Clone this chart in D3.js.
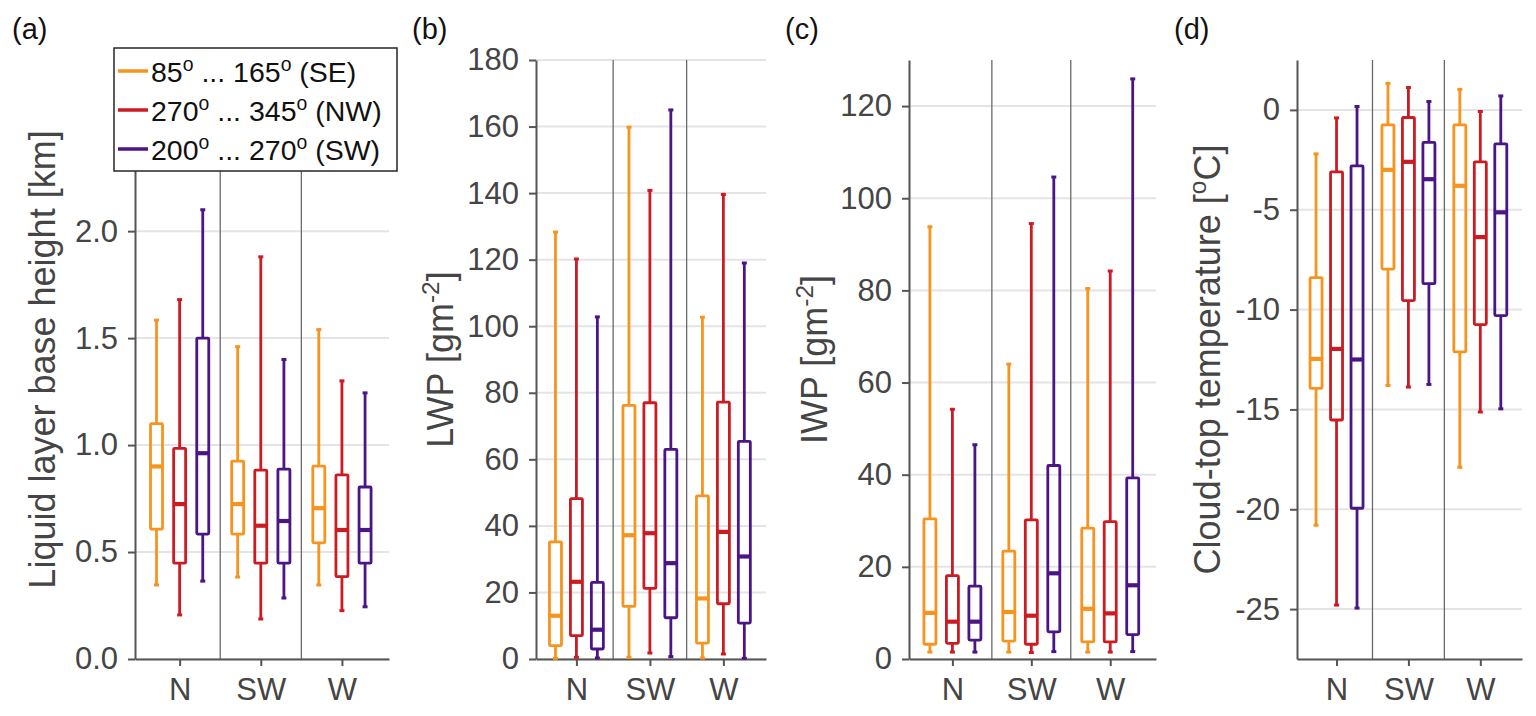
<!DOCTYPE html>
<html><head><meta charset="utf-8">
<script src="https://cdn.jsdelivr.net/npm/d3@7"></script>
<style>
body{margin:0;background:#fff}
svg{display:block}
text{font-family:"Liberation Sans",Arial,Helvetica,sans-serif}
</style>
</head><body>
<svg id="chart" width="1536" height="716"></svg>
<script>
// ---------- data ----------
const categories = ["N", "SW", "W"];
const seriesNames = ["SE", "NW", "SW"];
const seriesColors = ["#F7941E", "#CC1B22", "#4B1585"];
const legendLabels = [
  [{t:"85"},{t:"o",sup:true},{t:" ... 165"},{t:"o",sup:true},{t:" (SE)"}],
  [{t:"270"},{t:"o",sup:true},{t:" ... 345"},{t:"o",sup:true},{t:" (NW)"}],
  [{t:"200"},{t:"o",sup:true},{t:" ... 270"},{t:"o",sup:true},{t:" (SW)"}]
];
// each: [series][category] -> [lower whisker, q1, median, q3, upper whisker]
const baseHeight = [
  [[0.346,0.607,0.900,1.100,1.584],[0.383,0.584,0.724,0.925,1.460],[0.346,0.543,0.705,0.902,1.540]],
  [[0.206,0.448,0.724,0.985,1.680],[0.187,0.448,0.623,0.883,1.880],[0.226,0.385,0.603,0.861,1.300]],
  [[0.364,0.584,0.962,1.500,2.100],[0.285,0.448,0.645,0.888,1.400],[0.244,0.448,0.603,0.804,1.244]]
];
const lwp = [
  [[0.2,4.0,13.0,35.2,128.3],[0.5,15.8,37.2,76.2,159.8],[0.3,4.8,18.2,49.0,102.7]],
  [[0.5,7.0,23.2,48.2,120.2],[1.8,21.2,37.8,77.0,140.8],[1.5,16.6,38.2,77.2,139.6]],
  [[0.3,3.0,8.8,23.0,102.8],[0.7,12.4,28.8,63.0,165.0],[0.2,10.8,30.8,65.4,119.0]]
];
const iwp = [
  [[1.5,3.2,10.0,30.4,93.8],[1.5,3.9,10.2,23.4,64.0],[1.5,3.7,10.9,28.4,80.4]],
  [[1.5,3.4,8.1,18.1,54.2],[1.4,3.2,9.4,30.2,94.5],[1.5,3.7,9.9,29.8,84.2]],
  [[1.5,4.1,8.1,15.8,46.5],[1.6,5.9,18.6,42.0,104.6],[1.6,5.3,16.0,39.3,125.9]]
];
const cloudTopTemp = [
  [[-20.8,-13.95,-12.47,-8.40,-2.20],[-13.80,-7.97,-3.00,-0.75,1.33],[-17.90,-12.12,-3.80,-0.75,1.03]],
  [[-24.8,-15.53,-11.97,-3.10,-0.40],[-13.88,-9.55,-2.60,-0.38,1.12],[-15.13,-10.75,-6.37,-2.60,-0.08]],
  [[-24.95,-19.95,-12.50,-2.80,0.17],[-13.75,-8.70,-3.47,-1.63,0.42],[-14.97,-10.30,-5.13,-1.70,0.70]]
];
const ticksA = [0, 0.5, 1, 1.5, 2];
const ticksB = [0, 20, 40, 60, 80, 100, 120, 140, 160, 180];
const ticksC = [0, 20, 40, 60, 80, 100, 120];
const ticksD = [-25, -20, -15, -10, -5, 0];

// ---------- layout ----------
const svg = d3.select("#chart");
const TOP = 60, BOTTOM = 659;
const TICKFONT = 31, LABELFONT = 36;
const axisColor = "#555", textColor = "#454545";

function richText(sel, parts, size) {
  let prevSup = false;
  parts.forEach(p => {
    const ts = sel.append("tspan").text(p.t);
    if (p.sup) { ts.attr("font-size", size * 0.68).attr("dy", -size * 0.4); prevSup = true; }
    else if (prevSup) { ts.attr("dy", size * 0.4); prevSup = false; }
  });
}

const panels = [
  {tag:"(a)", tagX:12, data:baseHeight, x0:135, x1:389, domain:[0,2.8], ticks:ticksA, fmt:d3.format(".1f"),
   label:[{t:"Liquid layer base height [km]"}], labelX:55},
  {tag:"(b)", tagX:412, data:lwp, x0:536, x1:766, domain:[0,180], ticks:ticksB, fmt:d3.format("d"),
   label:[{t:"LWP [gm"},{t:"-2",sup:true},{t:"]"}], labelX:453},
  {tag:"(c)", tagX:785, data:iwp, x0:909, x1:1156, domain:[0,130], ticks:ticksC, fmt:d3.format("d"),
   label:[{t:"IWP [gm"},{t:"-2",sup:true},{t:"]"}], labelX:827},
  {tag:"(d)", tagX:1174, data:cloudTopTemp, x0:1297, x1:1522, domain:[-27.5,2.5], ticks:ticksD, fmt:d => String(d),
   label:[{t:"Cloud-top temperature ["},{t:"o",sup:true},{t:"C]"}], labelX:1220}
];

panels.forEach(p => {
  const g = svg.append("g");
  const x = d3.scaleLinear().domain([0.45, 3.58]).range([p.x0, p.x1]);
  const y = d3.scaleLinear().domain(p.domain).range([BOTTOM, TOP]);

  // grid lines
  g.append("g").selectAll("line").data(p.ticks).join("line")
    .attr("x1", p.x0).attr("x2", p.x1)
    .attr("y1", d => y(d)).attr("y2", d => y(d))
    .attr("stroke", "#e4e4e4").attr("stroke-width", 2);

  // category dividers
  g.append("g").selectAll("line").data([1.5, 2.5]).join("line")
    .attr("x1", d => x(d)).attr("x2", d => x(d))
    .attr("y1", TOP).attr("y2", BOTTOM)
    .attr("stroke", "#6a6a6a").attr("stroke-width", 1.3);

  // axes
  const ya = g.append("g").attr("transform", `translate(${p.x0},0)`)
    .call(d3.axisLeft(y).tickValues(p.ticks).tickFormat(p.fmt).tickSize(7).tickSizeOuter(0).tickPadding(10));
  const xa = g.append("g").attr("transform", `translate(0,${BOTTOM})`)
    .call(d3.axisBottom(x).tickValues([1, 2, 3]).tickFormat(d => categories[d - 1]).tickSize(7).tickSizeOuter(0).tickPadding(12));
  [ya, xa].forEach(a => {
    a.attr("font-family", null).attr("font-size", null);
    a.select(".domain").attr("stroke", axisColor).attr("stroke-width", 2);
    a.selectAll(".tick line").attr("stroke", axisColor).attr("stroke-width", 2);
    a.selectAll(".tick text").attr("fill", textColor).attr("font-size", TICKFONT);
  });

  // boxes
  const offsets = [-0.285, 0, 0.285];
  p.data.forEach((series, si) => {
    const col = seriesColors[si];
    series.forEach((v, ci) => {
      const cx = x(ci + 1 + offsets[si]);
      const [lo, q1, med, q3, hi] = v;
      const bg = g.append("g").attr("stroke", col).attr("fill", "none");
      bg.append("line").attr("x1", cx).attr("x2", cx).attr("y1", y(hi)).attr("y2", y(q3)).attr("stroke-width", 2.8);
      bg.append("line").attr("x1", cx).attr("x2", cx).attr("y1", y(q1)).attr("y2", y(lo)).attr("stroke-width", 2.8);
      [lo, hi].forEach(w => bg.append("line").attr("x1", cx - 2.5).attr("x2", cx + 2.5)
        .attr("y1", y(w)).attr("y2", y(w)).attr("stroke-width", 3));
      bg.append("rect").attr("x", cx - 6).attr("width", 12)
        .attr("y", y(q3)).attr("height", y(q1) - y(q3)).attr("stroke-width", 2.8).attr("rx", 1);
      bg.append("line").attr("x1", cx - 6).attr("x2", cx + 6)
        .attr("y1", y(med)).attr("y2", y(med)).attr("stroke-width", 4.2);
    });
  });

  // y label
  const lab = g.append("text")
    .attr("transform", `translate(${p.labelX},${(TOP + BOTTOM) / 2}) rotate(-90)`)
    .attr("text-anchor", "middle").attr("fill", textColor).attr("font-size", LABELFONT);
  richText(lab, p.label, LABELFONT);

  // panel tag
  svg.append("text").attr("x", p.tagX).attr("y", 39).attr("font-size", 29).attr("fill", "#111").text(p.tag);
});

// legend
const lg = svg.append("g");
lg.append("rect").attr("x", 114).attr("y", 48).attr("width", 283).attr("height", 123)
  .attr("fill", "#fff").attr("stroke", "#262626").attr("stroke-width", 1.5);
legendLabels.forEach((parts, i) => {
  const yy = 71 + i * 39;
  lg.append("line").attr("x1", 118).attr("x2", 148).attr("y1", yy).attr("y2", yy)
    .attr("stroke", seriesColors[i]).attr("stroke-width", 3.5);
  const t = lg.append("text").attr("x", 151).attr("y", yy + 11).attr("font-size", 28.5).attr("fill", "#111");
  richText(t, parts, 28.5);
});
</script>
</body></html>
